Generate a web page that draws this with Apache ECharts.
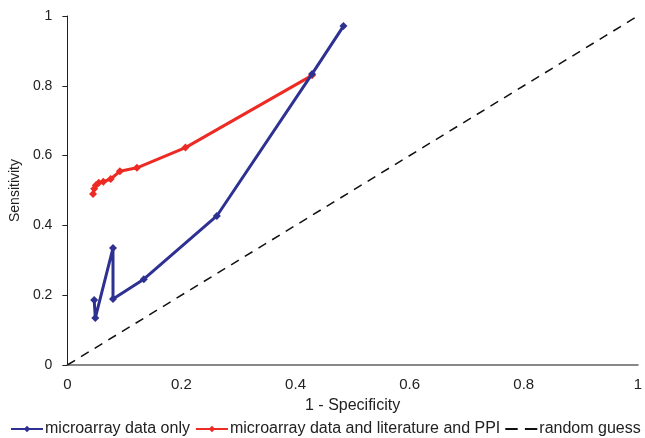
<!DOCTYPE html>
<html>
<head>
<meta charset="utf-8">
<script src="https://cdn.jsdelivr.net/npm/echarts@6/dist/echarts.min.js"></script>
<style>
  html, body { margin: 0; padding: 0; background: #fff; }
  #chart { width: 645px; height: 438px; }
</style>
</head>
<body>
<div id="chart"></div>
<script>
// ROC 곡선: x = 1 - 특이도, y = 민감도
const microX = [0.047, 0.049, 0.080, 0.080, 0.134, 0.262, 0.429, 0.484];
const microY = [0.186, 0.135, 0.335, 0.189, 0.246, 0.427, 0.834, 0.971];

const litX = [0.045, 0.047, 0.050, 0.055, 0.063, 0.076, 0.092, 0.122, 0.207, 0.429];
const litY = [0.490, 0.505, 0.515, 0.522, 0.525, 0.533, 0.555, 0.565, 0.623, 0.830];

const guessX = [0, 1];
const guessY = [0, 1];

const seriesNames = ['microarray data only', 'microarray data and literature and PPI', 'random guess'];

const zip = (xs, ys) => xs.map((x, i) => [x, ys[i]]);

const font = 'Liberation Sans, Arial, sans-serif';
const chart = echarts.init(document.getElementById('chart'));

chart.setOption({
    animation: false,
    grid: { left: 66, right: 3, top: 16, bottom: 73 },
    xAxis: {
        type: 'value', min: 0, max: 1, interval: 0.2,
        name: '1 - Specificity', nameLocation: 'middle', nameGap: 33,
        nameTextStyle: { fontFamily: font, fontSize: 16, color: '#222' },
        axisLine: { show: true, lineStyle: { color: '#888', width: 2 } },
        axisTick: { show: false },
        splitLine: { show: false },
        axisLabel: { fontFamily: font, fontSize: 15, color: '#222', margin: 12 }
    },
    yAxis: {
        type: 'value', min: 0, max: 1, interval: 0.2,
        name: 'Sensitivity', nameLocation: 'middle', nameGap: 35,
        nameTextStyle: { fontFamily: font, fontSize: 14, color: '#222' },
        axisLine: { show: true, lineStyle: { color: '#222', width: 1 } },
        axisTick: { show: true, inside: false, length: 5, lineStyle: { color: '#222' } },
        splitLine: { show: false },
        axisLabel: { fontFamily: font, fontSize: 14, color: '#222', margin: 15 }
    },
    legend: {
        left: 10, right: 0, bottom: 1,
        padding: 0,
        itemWidth: 32, itemHeight: 8, itemGap: 5,
        textStyle: { fontFamily: font, fontSize: 16, color: '#222', padding: [0, 0, 0, -3] },
        data: [
            seriesNames[0],
            seriesNames[1],
            { name: seriesNames[2], icon: 'path://M0,0H12V2H0ZM19,0H31V2H19Z' }
        ]
    },
    series: [
        {
            name: seriesNames[2], type: 'line', data: zip(guessX, guessY),
            symbol: 'none', z: 1,
            lineStyle: { color: '#111', width: 1.5, type: [9, 7] },
            itemStyle: { color: '#111' }
        },
        {
            name: seriesNames[0], type: 'line', data: zip(microX, microY),
            symbol: 'diamond', symbolSize: 8, z: 3,
            lineStyle: { color: '#2e3192', width: 3 },
            itemStyle: { color: '#2e3192' }
        },
        {
            name: seriesNames[1], type: 'line', data: zip(litX, litY),
            symbol: 'diamond', symbolSize: 8, z: 2,
            lineStyle: { color: '#ee2a24', width: 3 },
            itemStyle: { color: '#ee2a24' }
        }
    ]
});
</script>
</body>
</html>
